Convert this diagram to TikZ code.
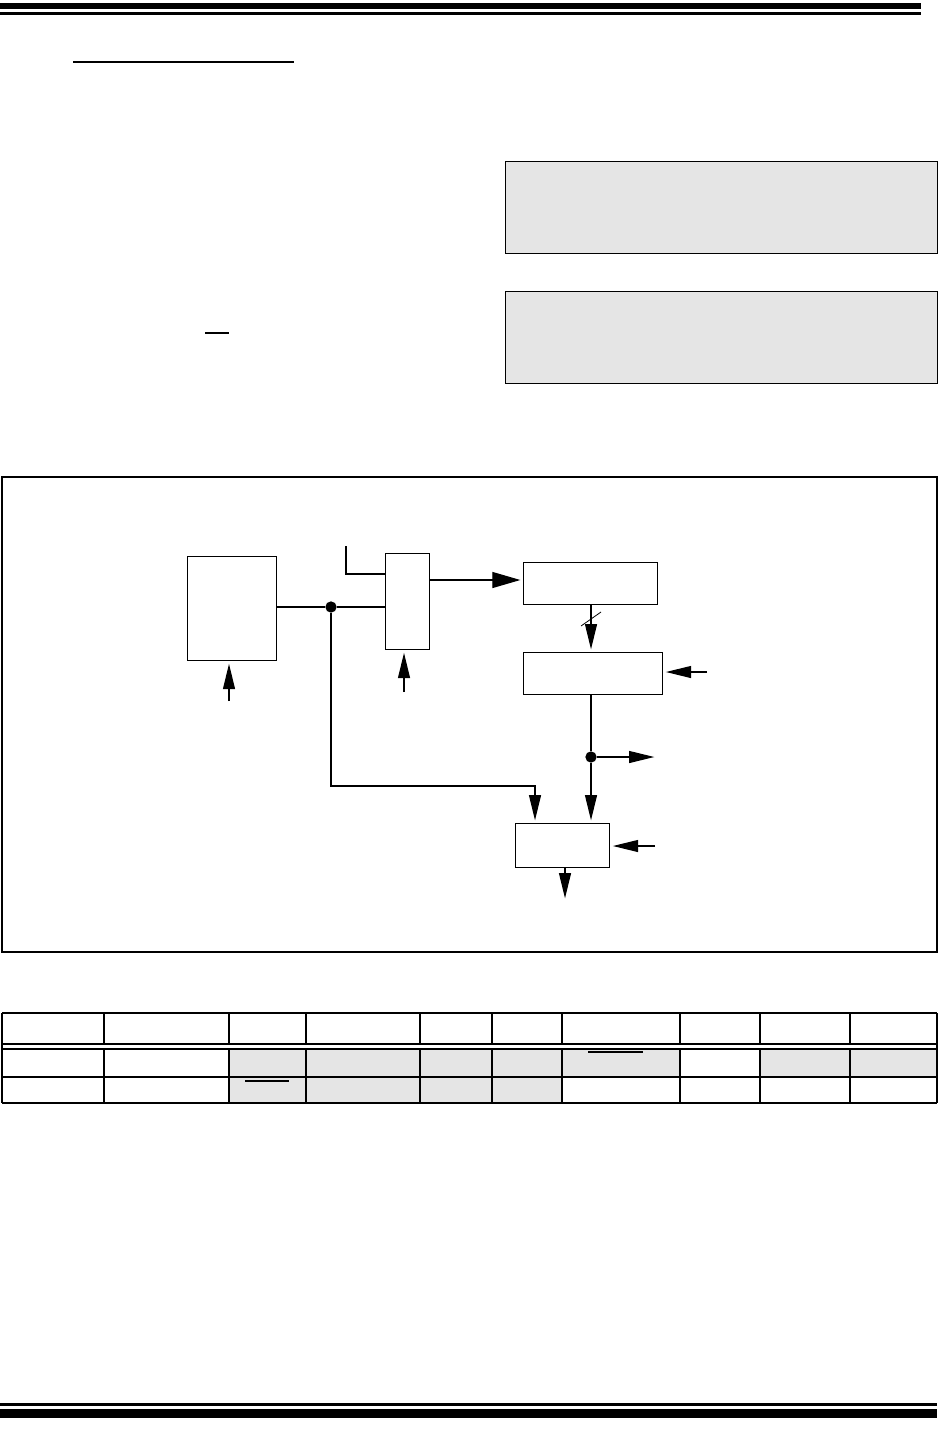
\documentclass[tikz,border=0pt]{standalone}
\usetikzlibrary{arrows.meta,calc}
\definecolor{cellgray}{HTML}{E5E5E5}
\definecolor{notegray}{HTML}{E5E5E5}

\begin{document}
\begin{tikzpicture}[
      x=0.75pt,y=-0.75pt,
      wire/.style={line width=0.9pt},
      blk/.style={draw,line width=0.9pt,inner sep=0pt,anchor=north west},
      sz/.style 2 args={minimum width=#1*0.75pt,minimum height=#2*0.75pt},
      arr/.style={wire,-{Triangle[length=19pt,width=9pt]},shorten >=2pt},
      dot/.style={circle,fill,inner sep=0pt,minimum size=8.5pt},
    ]
    \useasboundingbox (0,0) rectangle (938,1431);
    % page rules
    \fill (0,3) rectangle (921,9);
    \fill (0,12) rectangle (921,15);
    \fill (0,1403) rectangle (937,1406);
    \fill (0,1409) rectangle (937,1418);
    \draw[wire] (73,62) -- (294,62);
    \draw[wire] (205,333) -- (229,333);
    % note boxes
    \node[blk,fill=notegray,sz={432}{92}] (noteA) at (505,161) {};
    \node[blk,fill=notegray,sz={432}{92}] (noteB) at (505,291) {};
    % figure
    \draw[wire] (2,477) rectangle (937,952);
    \node[blk,sz={89}{104}] (reg) at (187,556) {};
    \node[blk,sz={44}{96}] (mux) at (385,553) {};
    \node[blk,sz={134}{42}] (cnt) at (523,562) {};
    \node[blk,sz={139}{42}] (cmp) at (523,652) {};
    \node[blk,sz={94}{44}] (gate) at (515,823) {};
    \node[dot] (jA) at (331,607) {};
    \node[dot] (jB) at (591,757) {};
    \coordinate (sel) at (346,546);
    \coordinate (selin) at (385,574);
    \coordinate (clkA) at (229,701);
    \coordinate (clkB) at (404,692);
    \coordinate (cmpin) at (707,672);
    \coordinate (outr) at (657,757);
    \coordinate (bend) at (535,786);
    \coordinate (gatein) at (655,846);
    \draw[wire] (jA -| reg.east) -- (jA) -- (jA -| mux.west);
    \draw[wire] (sel) |- (selin);
    \draw[arr,-{Triangle[length=21pt,width=12pt]}] (mux.east |- 0,580) -- (cnt.west |- 0,580);
    \draw[arr] (591,0 |- cnt.south) -- (591,0 |- cmp.north);
    \draw[line width=0.6pt] (581,626) -- (601,612);
    \draw[arr] (cmpin) -- (cmpin -| cmp.east);
    \draw[wire] (591,0 |- cmp.south) -- (jB);
    \draw[arr] (jB) -- (outr);
    \draw[arr] (jB) -- (jB |- gate.north);
    \draw[arr] (jA) |- (bend) -- (bend |- gate.north);
    \draw[arr] (gatein) -- (gatein -| gate.east);
    \draw[arr] (565,0 |- gate.south) -- (565,901);
    \draw[arr] (clkA) -- (clkA |- reg.south);
    \draw[arr] (clkB) -- (clkB |- mux.south);
    % register table
    \foreach \a/\b in {229/680, 760/937}
      \fill[cellgray] (\a,1049) rectangle (\b,1077);
    \fill[cellgray] (229,1077) rectangle (562,1103);
    \foreach \y in {1013,1044,1049,1077,1103}
      \draw[wire] (2,\y) -- (937,\y);
    \foreach \x in {104,229,306,420,492,562,680,760,850}
      \draw[wire] (\x,1013) -- (\x,1044) (\x,1049) -- (\x,1103);
    \draw[wire] (2,1013) -- (2,1103) (937,1013) -- (937,1103);
    \draw[wire] (588,1052) -- (643,1052);
    \draw[wire] (245,1081) -- (289,1081);
  \end{tikzpicture}
\end{document}
